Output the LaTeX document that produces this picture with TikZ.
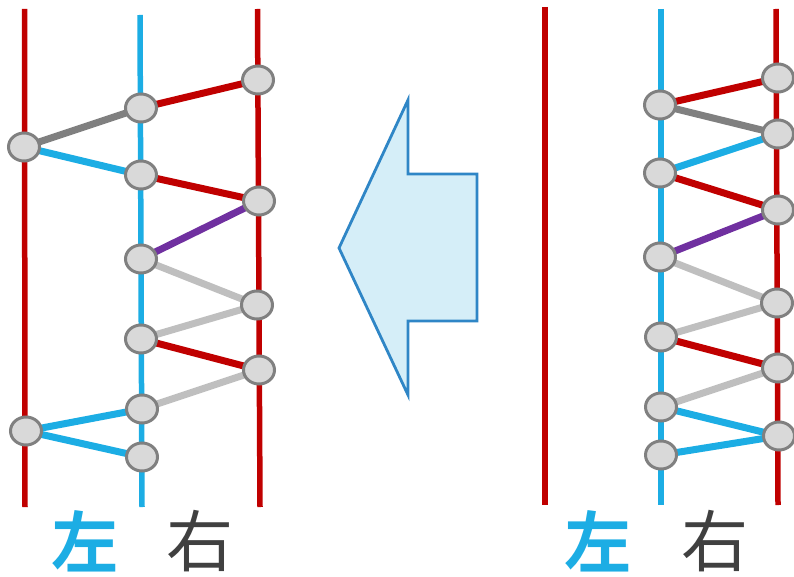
\documentclass[tikz,border=0pt]{standalone}
\usepackage{fontspec}
\newfontfamily\cjkbold{Noto Sans CJK SC Bold}
\newfontfamily\cjk{Noto Sans CJK SC}
\definecolor{wred}{HTML}{C00000}
\definecolor{wblue}{HTML}{1CADE4}
\definecolor{wpurple}{HTML}{7030A0}
\definecolor{wgray}{HTML}{808080}
\definecolor{wlight}{HTML}{BFBFBF}
\definecolor{wfill}{HTML}{D9D9D9}
\definecolor{arrowline}{HTML}{2F86C6}
\definecolor{arrowfill}{HTML}{D5EEF8}
\definecolor{wtext}{HTML}{404040}
\usetikzlibrary{shapes.geometric}
\pgfdeclarelayer{background}
\pgfsetlayers{background,main}
\tikzset{
  strand/.style={line width=5.5pt},
  link/.style={line width=7pt},
  knot/.style={ellipse,draw=wgray,fill=wfill,line width=3pt,
    minimum width=31pt,minimum height=28pt,inner sep=0pt},
  leftlabel/.style={font=\cjkbold\fontsize{67}{67}\selectfont,text=wblue},
  rightlabel/.style={font=\cjk\fontsize{67}{67}\selectfont,text=wtext}
}
\begin{document}
\begin{tikzpicture}[x=1pt,y=-1pt]
\useasboundingbox (0,0) rectangle (794,577);

% left picture: points
\node[knot] (L1) at (24,147) {};
\node[knot] (L2) at (26,431) {};
\node[knot] (M1) at (141,108) {};
\node[knot] (M2) at (141,175) {};
\node[knot] (M3) at (141,259) {};
\node[knot] (M4) at (141,339) {};
\node[knot] (M5) at (142,409) {};
\node[knot] (M6) at (142,457) {};
\node[knot] (R1) at (258,80) {};
\node[knot] (R2) at (259,201) {};
\node[knot] (R3) at (257,305) {};
\node[knot] (R4) at (259,370) {};

% right picture: points
\node[knot] (m1) at (660,105) {};
\node[knot] (m2) at (660,173) {};
\node[knot] (m3) at (660,257) {};
\node[knot] (m4) at (661,337) {};
\node[knot] (m5) at (661,407) {};
\node[knot] (m6) at (661,455) {};
\node[knot] (r1) at (778,78) {};
\node[knot] (r2) at (778,134) {};
\node[knot] (r3) at (778,210) {};
\node[knot] (r4) at (777,303) {};
\node[knot] (r5) at (778,368) {};
\node[knot] (r6) at (779,436) {};

% strand ends
\coordinate (La) at (24.5,9);   \coordinate (Lb) at (25,507);
\coordinate (Ma) at (140,15);   \coordinate (Mb) at (142,507);
\coordinate (Ra) at (257.5,9);  \coordinate (Rb) at (260,507);
\coordinate (la) at (545,7);    \coordinate (lb) at (545,505);
\coordinate (ma) at (661,9);    \coordinate (mb) at (661,505);
\coordinate (ra) at (776,9);    \coordinate (rb) at (778,505);

\begin{pgfonlayer}{background}
% strands
\draw[strand,wred] (La) -- (Lb);
\draw[strand,wblue] (Ma) -- (Mb);
\draw[strand,wred] (Ra) -- (Rb);
\draw[strand,wred] (la) -- (lb);
\draw[strand,wblue] (ma) -- (mb);
\draw[strand,wred] (ra) -- (rb);

% left picture: links
\draw[link,wgray] (L1.center) -- (M1.center);
\draw[link,wblue] (L1.center) -- (M2.center);
\draw[link,wred] (M1.center) -- (R1.center);
\draw[link,wred] (M2.center) -- (R2.center);
\draw[link,wpurple] (M3.center) -- (R2.center);
\draw[link,wlight] (M3.center) -- (R3.center);
\draw[link,wlight] (M4.center) -- (R3.center);
\draw[link,wred] (M4.center) -- (R4.center);
\draw[link,wlight] (M5.center) -- (R4.center);
\draw[link,wblue] (L2.center) -- (M5.center);
\draw[link,wblue] (L2.center) -- (M6.center);

% right picture: links
\draw[link,wred] (m1.center) -- (r1.center);
\draw[link,wgray] (m1.center) -- (r2.center);
\draw[link,wblue] (m2.center) -- (r2.center);
\draw[link,wred] (m2.center) -- (r3.center);
\draw[link,wpurple] (m3.center) -- (r3.center);
\draw[link,wlight] (m3.center) -- (r4.center);
\draw[link,wlight] (m4.center) -- (r4.center);
\draw[link,wred] (m4.center) -- (r5.center);
\draw[link,wlight] (m5.center) -- (r5.center);
\draw[link,wblue] (m5.center) -- (r6.center);
\draw[link,wblue] (m6.center) -- (r6.center);
\end{pgfonlayer}

% big arrow
\draw[arrowline,fill=arrowfill,line width=2.8pt,line join=miter]
  (339,248) -- (408,100) -- (408,174) -- (477,174) -- (477,321)
  -- (408,321) -- (408,395) -- cycle;

% labels
\node[leftlabel] (left1) at (85,541) {左};
\node[rightlabel] (right1) at (200,541) {右};
\node[leftlabel] (left2) at (598,541) {左};
\node[rightlabel] (right2) at (715,541) {右};
\end{tikzpicture}
\end{document}
